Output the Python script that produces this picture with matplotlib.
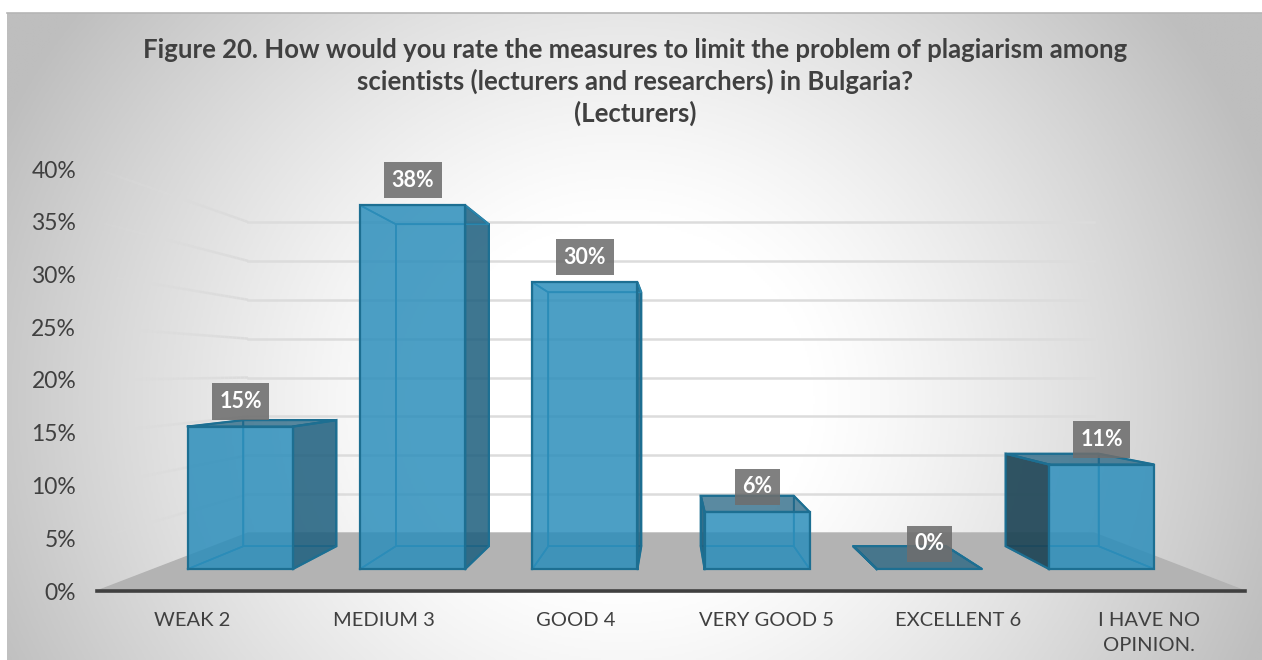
import numpy as np
import matplotlib
matplotlib.use('Agg')
import matplotlib.pyplot as plt
from matplotlib.collections import LineCollection
from matplotlib.colors import LinearSegmentedColormap

plt.rcParams['font.family'] = ['Lato', 'DejaVu Sans']

title = ("Figure 20. How would you rate the measures to limit the problem of plagiarism among\n"
         "scientists (lecturers and researchers) in Bulgaria?\n"
         "(Lecturers)")
categories = ['WEAK 2', 'MEDIUM 3', 'GOOD 4', 'VERY GOOD 5', 'EXCELLENT 6', 'I HAVE NO\nOPINION.']
values = [15.0, 38.3, 30.2, 6.0, 0.0, 11.0]
y_ticks = [0, 5, 10, 15, 20, 25, 30, 35, 40]

# perspective of the chart box: depth 0 is the axis plane, depth 1 the back wall
eye_x = 3.0
eye_y = 20.9
shrink = 0.357
bar_width = 0.61
bar_front = 0.311
bar_back = 0.715


def project(x, v, z):
    s = 1 / (1 + shrink * z)
    return eye_x + (x - eye_x) * s, eye_y + (v - eye_y) * s


def face(ax, corners, color, alpha, z, edge='#1d6f92', lw=1.6):
    pts = [project(*c) for c in corners]
    ax.fill([p[0] for p in pts], [p[1] for p in pts], facecolor=color, alpha=alpha,
            edgecolor='none', zorder=z, clip_on=False)
    pts.append(pts[0])
    ax.plot([p[0] for p in pts], [p[1] for p in pts], color=edge, lw=lw, zorder=z,
            clip_on=False, solid_joinstyle='miter')


fig = plt.figure(figsize=(12.62, 6.6), dpi=100)

# background: radial grey to white, starts a little in from the top left
bg = fig.add_axes([7 / 1262, 0, 1255 / 1262, 647 / 660])
xx, yy = np.meshgrid(np.linspace(-1, 1, 630), np.linspace(-1, 1, 330))
dist = np.sqrt((xx + 0.02) ** 2 + (0.55 * (yy - 0.2)) ** 2)
shade = np.clip((dist - 0.3) / 0.8, 0, 1) ** 1.2
cmap = LinearSegmentedColormap.from_list('bg', ['#ffffff', '#bebebe'])
bg.imshow(shade, cmap=cmap, vmin=0, vmax=1, aspect='auto', interpolation='bilinear')
bg.axis('off')
fig.add_artist(plt.Line2D([7 / 1262, 1], [647 / 660, 647 / 660], color='#b5b5b5', lw=1.2))

ax = fig.add_axes([97 / 1262, 1 - 591 / 660, 1148 / 1262, 422 / 660])
ax.patch.set_alpha(0)
ax.set_xlim(0, 6)
ax.set_ylim(0, 40)

# grid on the back wall, fading out along the left wall
grid_color = '#dcdcdc'
for t in y_ticks[1:]:
    x0, y0 = project(0, t, 1)
    x1, y1 = project(6, t, 1)
    ax.plot([x0, x1], [y0, y1], color=grid_color, lw=1.8, zorder=1, clip_on=False)
    zs = np.linspace(0, 1, 31)
    pts = [project(0, t, d) for d in zs]
    segs = [[pts[i], pts[i + 1]] for i in range(30)]
    rgba = [(0.86, 0.86, 0.86, (i / 30) ** 0.6) for i in range(30)]
    ax.add_collection(LineCollection(segs, colors=rgba, linewidths=1.8, zorder=1, clip_on=False))

# floor
floor = [project(0, 0, 0), project(6, 0, 0), project(6, 0, 1), project(0, 0, 1)]
ax.fill([p[0] for p in floor], [p[1] for p in floor], color='#b3b3b3', zorder=2, clip_on=False)

blue = '#2c8ebb'
dark = '#1e5f7e'
darker = '#1c4354'
for i, v in enumerate(values):
    x0 = i + 0.5 - bar_width / 2
    x1 = i + 0.5 + bar_width / 2
    zf, zb = bar_front, bar_back
    z = 3 + i
    left = [(x0, 0, zf), (x0, v, zf), (x0, v, zb), (x0, 0, zb)]
    right = [(x1, 0, zf), (x1, v, zf), (x1, v, zb), (x1, 0, zb)]
    top = [(x0, v, zf), (x1, v, zf), (x1, v, zb), (x0, v, zb)]
    bottom = [(x0, 0, zf), (x1, 0, zf), (x1, 0, zb), (x0, 0, zb)]
    back = [(x0, 0, zb), (x1, 0, zb), (x1, v, zb), (x0, v, zb)]
    front = [(x0, 0, zf), (x1, 0, zf), (x1, v, zf), (x0, v, zf)]

    face(ax, back, blue, 0.05, z, edge='#2b86ad', lw=1.2)
    face(ax, bottom, blue if v > 0 else dark, 0.1 if v > 0 else 0.0, z, edge='#2b86ad', lw=1.2)
    # sides and top: only the ones turned towards the viewer are dark
    if x1 < eye_x:
        face(ax, right, dark, 0.85, z)
        face(ax, left, blue, 0.05, z, edge='#2b86ad', lw=1.2)
    else:
        face(ax, left, darker if x0 > 5 else dark, 0.9, z)
        face(ax, right, blue, 0.05, z, edge='#2b86ad', lw=1.2)
    if v < eye_y:
        face(ax, top, dark, 0.72, z)
    else:
        face(ax, top, blue, 0.05, z, edge='#2b86ad', lw=1.2)
    if v > 0:
        face(ax, front, blue, 0.84, z)
    ax.annotate('%.0f%%' % v, (i + 0.5 + (eye_x - i - 0.5) * (1 - 1 / (1 + shrink * zf)), project(0, v, zf)[1]),
                xytext=(0, 18), textcoords='offset points', ha='center', va='center',
                color='white', fontsize=15.5, fontweight='bold', zorder=20, annotation_clip=False,
                bbox=dict(boxstyle='square,pad=0.35', facecolor='#6e6e6e', alpha=0.88, edgecolor='none'))

ax.set_xticks([i + 0.5 for i in range(6)])
ax.set_xticklabels(categories, fontsize=14.5, color='#404040', linespacing=1.6)
ax.set_yticks(y_ticks)
ax.set_yticklabels(['%d%%' % t for t in y_ticks], fontsize=16.5, color='#404040')
ax.tick_params(axis='both', length=0)
ax.tick_params(axis='x', pad=15)
ax.tick_params(axis='y', pad=15)
for name in ['top', 'left', 'right']:
    ax.spines[name].set_visible(False)
ax.spines['bottom'].set_color('#404040')
ax.spines['bottom'].set_linewidth(2.6)
ax.spines['bottom'].set_zorder(15)

fig.text(635 / 1262, 1 - 82 / 660, title, ha='center', va='center', fontsize=18.5, fontweight='bold',
         color='#404040', linespacing=1.3)

fig.savefig('out.png', dpi=100)
